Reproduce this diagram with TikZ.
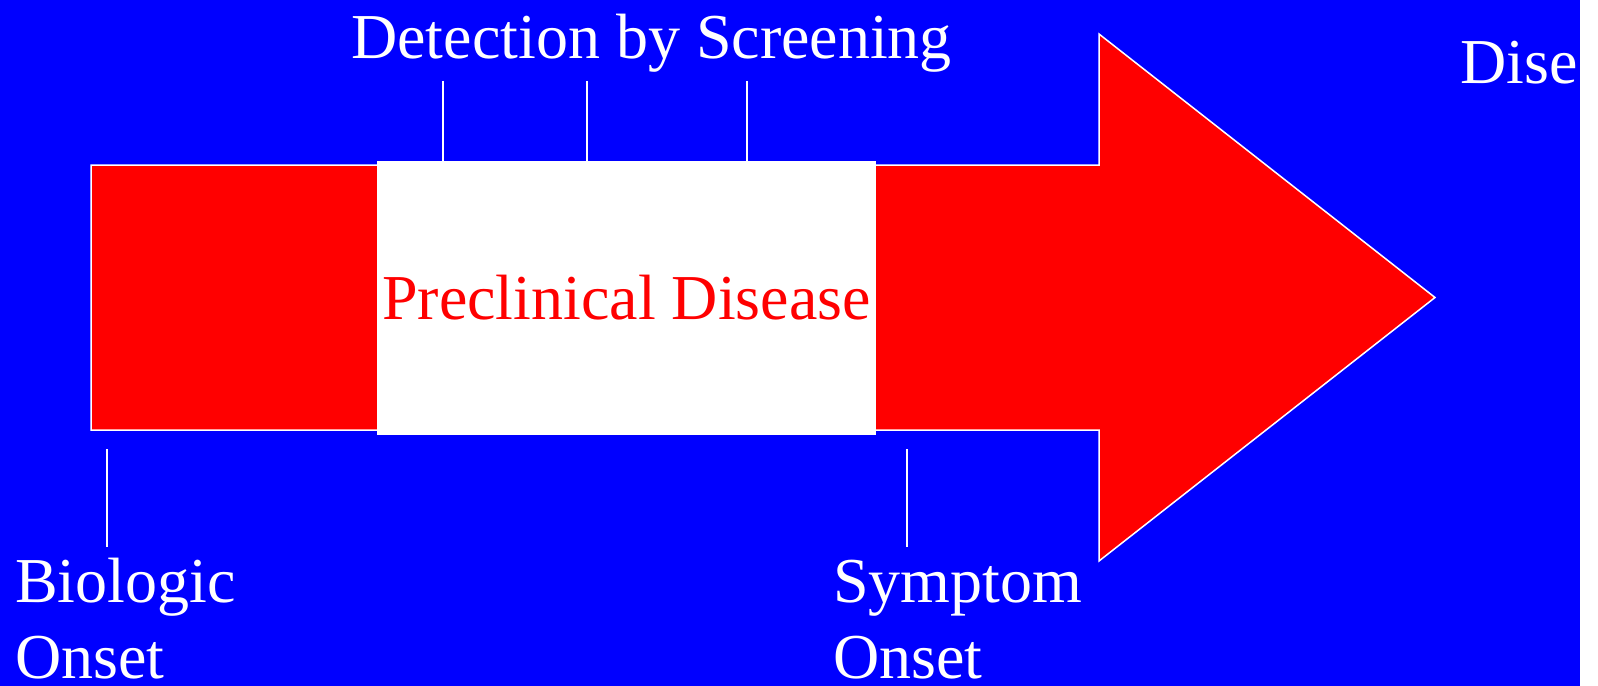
\documentclass[tikz,border=0pt]{standalone}
\usepackage{fontspec}
\setmainfont{Liberation Serif}
\definecolor{bgblue}{RGB}{0,0,255}
\definecolor{arrred}{RGB}{255,0,0}
\begin{document}
\begin{tikzpicture}[x=1bp,y=-1bp,
  lbl/.style={text=white,font=\fontsize{64bp}{76bp}\selectfont,inner sep=0pt},
  tick/.style={draw=white,line width=1.5bp},
  bigarrow/.style={fill=arrred,draw=white,line width=1.5bp,line join=miter}]
\useasboundingbox (0,0) rectangle (1598,686);
\fill[bgblue] (0,0) rectangle (1580,686);
\fill[white] (1580,0) rectangle (1598,686);
% arrow
\draw[bigarrow] (91,165) -- (1099,165) -- (1099,34) -- (1435,297.5) -- (1099,561) -- (1099,430) -- (91,430) -- cycle;
% preclinical box
\node[fill=white, minimum width=499bp, minimum height=274bp, inner sep=0pt,
      text=arrred, font=\fontsize{64bp}{76bp}\selectfont] (box) at (626.5,298) {Preclinical Disease};
% labels
\node[lbl, anchor=base west] (det) at (351,58.5) {Detection by Screening};
\node[lbl, anchor=base west, align=left] (bio) at (15,678) {Biologic\\Onset};
\node[lbl, anchor=base west, align=left] (sym) at (833,678) {Symptom\\Onset};
\node[lbl, anchor=base west] (dis) at (1460,83.3) {Dise};
% ticks
\coordinate (t1) at (443,81);
\coordinate (t2) at (587,81);
\coordinate (t3) at (747,81);
\draw[tick] (t1) -- (t1 |- box.north);
\draw[tick] (t2) -- (t2 |- box.north);
\draw[tick] (t3) -- (t3 |- box.north);
\coordinate (b1) at (107,449);
\coordinate (b2) at (907,449);
\draw[tick] (b1) -- (b1 |- 0,547);
\draw[tick] (b2) -- (b2 |- 0,547);
\end{tikzpicture}
\end{document}
